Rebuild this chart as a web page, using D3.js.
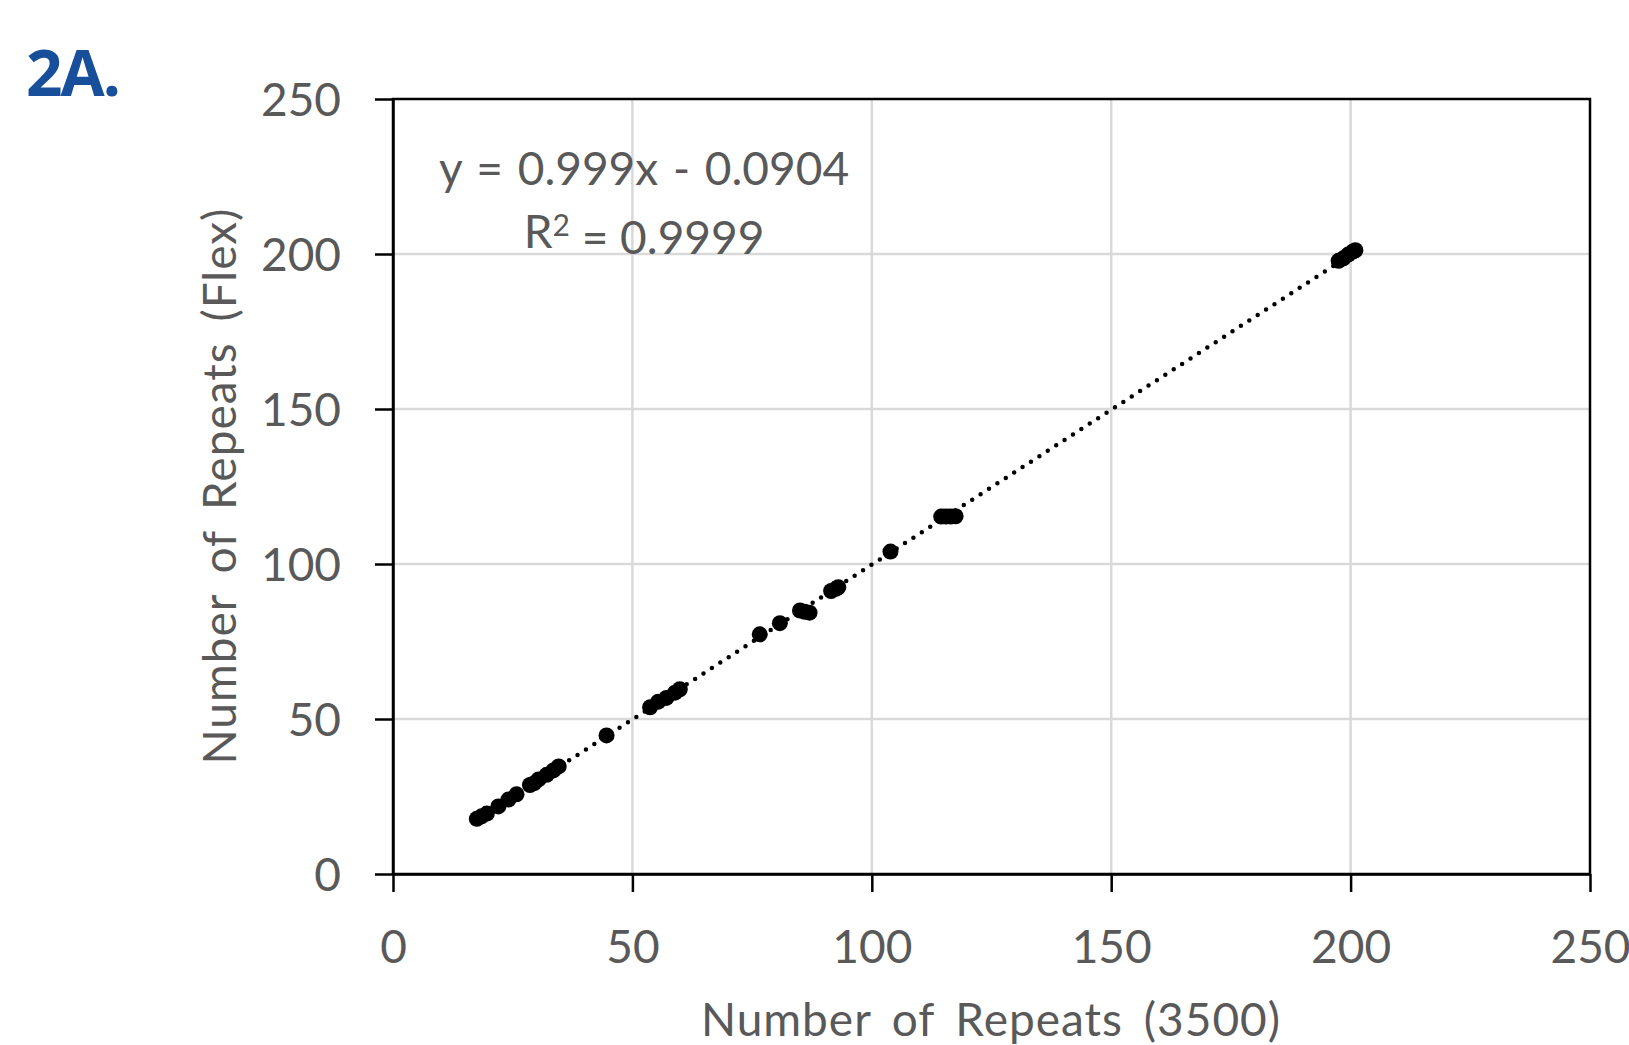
<!DOCTYPE html>
<html>
<head>
<meta charset="utf-8">
<script src="https://cdn.jsdelivr.net/npm/d3@7"></script>
<style>
  body { margin: 0; background: #fff; }
  text { font-family: Lato, "Open Sans", sans-serif; }
</style>
</head>
<body>
<svg id="chart" width="1629" height="1045"></svg>
<script>
// values
var repeats3500 = [17.5, 18.5, 19.6, 22.0, 24.1, 25.8, 28.6, 29.5, 30.4, 32.1, 33.5, 34.6,
                   44.6, 53.7, 55.4, 57.1, 58.9, 59.9, 76.6, 80.8, 85.0, 86.0, 87.0,
                   91.5, 92.5, 93.0, 103.9, 114.5, 115.5, 116.5, 117.5,
                   197.5, 198.5, 199.5, 200.5, 201.0];
var repeatsFlex = [17.8, 18.6, 19.5, 21.8, 24.0, 25.7, 28.7, 29.3, 30.5, 32.0, 33.4, 34.7,
                   44.7, 53.8, 55.6, 56.8, 58.5, 59.6, 77.3, 80.9, 85.0, 84.6, 84.3,
                   91.3, 92.0, 92.5, 104.0, 115.3, 115.3, 115.3, 115.4,
                   197.8, 198.6, 199.8, 200.8, 201.2];
var xTicks = [0, 50, 100, 150, 200, 250];
var yTicks = [0, 50, 100, 150, 200, 250];
var slope = 0.999, intercept = -0.0904;

var points = repeats3500.map(function (d, i) { return {x: d, y: repeatsFlex[i]}; });

var svg = d3.select("#chart");
var margin = {left: 393, right: 39, top: 99, bottom: 171};
var width = 1629 - margin.left - margin.right,
    height = 1045 - margin.top - margin.bottom;

var x = d3.scaleLinear().domain([0, 250]).range([0, width]);
var y = d3.scaleLinear().domain([0, 250]).range([height, 0]);

var g = svg.append("g")
    .attr("transform", "translate(" + margin.left + "," + margin.top + ")");

// gridlines
g.append("g").selectAll("line.vg")
    .data(xTicks.slice(1, -1)).enter().append("line")
    .attr("x1", d => x(d)).attr("x2", d => x(d))
    .attr("y1", 0).attr("y2", height)
    .attr("stroke", "#d9d9d9").attr("stroke-width", 2.5);
g.append("g").selectAll("line.hg")
    .data(yTicks.slice(1, -1)).enter().append("line")
    .attr("x1", 0).attr("x2", width)
    .attr("y1", d => y(d)).attr("y2", d => y(d))
    .attr("stroke", "#d9d9d9").attr("stroke-width", 2.5);

// box
g.append("rect")
    .attr("width", width).attr("height", height)
    .attr("fill", "none").attr("stroke", "#000").attr("stroke-width", 2.5);

// axes
var xAxis = g.append("g")
    .attr("transform", "translate(0," + height + ")")
    .call(d3.axisBottom(x).tickValues(xTicks).tickSizeInner(18).tickSizeOuter(0).tickPadding(38));
var yAxis = g.append("g")
    .call(d3.axisLeft(y).tickValues(yTicks).tickSizeInner(18).tickSizeOuter(0).tickPadding(34));

[xAxis, yAxis].forEach(function (a) {
    a.select(".domain").attr("stroke", "#000").attr("stroke-width", 2.5);
    a.selectAll(".tick line").attr("stroke", "#000").attr("stroke-width", 2.5);
    a.selectAll(".tick text")
        .attr("fill", "#595959")
        .style("font-size", "46px")
        .style("font-family", "Lato, 'Open Sans', sans-serif");
});
yAxis.selectAll(".tick text").attr("dy", "0.36em");

// trendline
var xMin = d3.min(repeats3500), xMax = d3.max(repeats3500);
g.append("line")
    .attr("x1", x(xMin)).attr("y1", y(slope * xMin + intercept))
    .attr("x2", x(xMax)).attr("y2", y(slope * xMax + intercept))
    .attr("stroke", "#000").attr("stroke-width", 4.5)
    .attr("stroke-linecap", "round")
    .attr("stroke-dasharray", "0 10");

// points
g.append("g").selectAll("circle")
    .data(points).enter().append("circle")
    .attr("cx", d => x(d.x)).attr("cy", d => y(d.y))
    .attr("r", 8).attr("fill", "#000");

// equation
var eq = g.append("text")
    .attr("x", 644 - margin.left).attr("y", 185 - margin.top)
    .attr("text-anchor", "middle")
    .attr("fill", "#595959").style("font-size", "46px")
    .style("word-spacing", "3px")
    .text("y = 0.999x - 0.0904");
var r2 = g.append("text")
    .attr("x", 644 - margin.left).attr("y", 248 - margin.top)
    .attr("text-anchor", "middle")
    .attr("fill", "#595959").style("font-size", "46px");
r2.append("tspan").text("R");
r2.append("tspan").attr("dy", "-0.4em").style("font-size", "30px").text("2");
r2.append("tspan").attr("dy", "0.4em").text(" = 0.9999");

// axis titles
svg.append("text")
    .attr("x", 991).attr("y", 1036)
    .attr("text-anchor", "middle")
    .attr("fill", "#595959").style("font-size", "46px")
    .style("letter-spacing", "1px").style("word-spacing", "8px")
    .text("Number of Repeats (3500)");
svg.append("text")
    .attr("transform", "translate(236,486) rotate(-90)")
    .attr("text-anchor", "middle")
    .attr("fill", "#595959").style("font-size", "46px")
    .style("letter-spacing", "1px").style("word-spacing", "8px")
    .text("Number of Repeats (Flex)");

// panel label
svg.append("text")
    .attr("x", 26).attr("y", 96)
    .attr("fill", "#174f9b")
    .style("font-family", "'Open Sans', sans-serif")
    .style("font-weight", "bold")
    .style("font-size", "64px")
    .style("letter-spacing", "-2px")
    .text("2A.");
</script>
</body>
</html>
